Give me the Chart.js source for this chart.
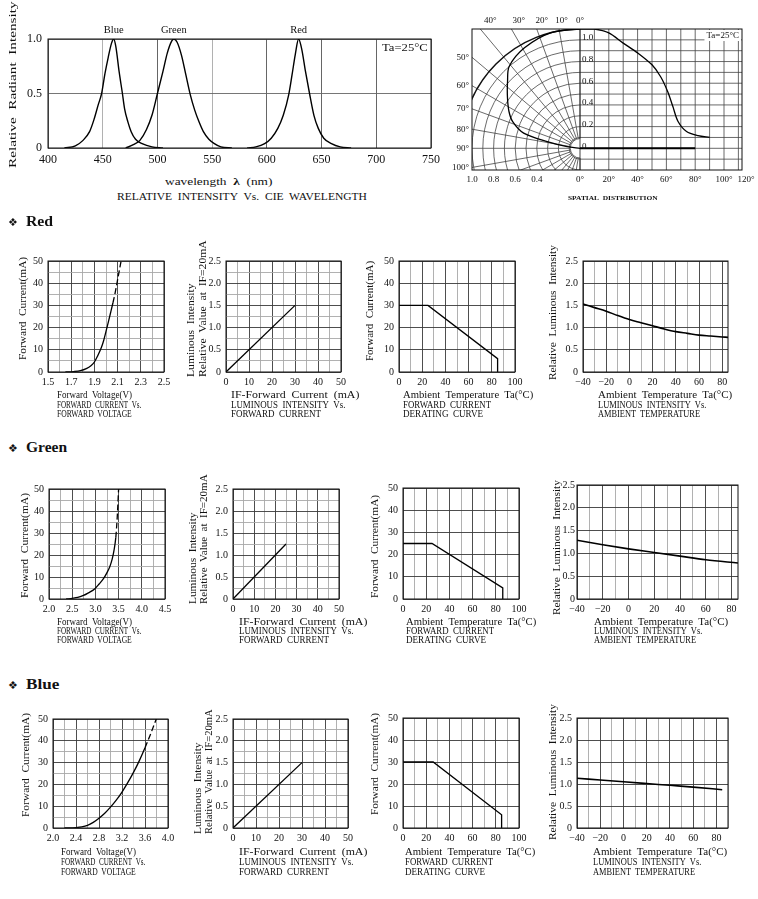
<!DOCTYPE html>
<html>
<head>
<meta charset="utf-8">
<script src="https://cdn.jsdelivr.net/npm/chart.js@4.4.0/dist/chart.umd.min.js"></script>
<style>
  body { margin: 0; background: #fff; }
  #page { position: relative; width: 758px; height: 899px; overflow: hidden; font-family: "Liberation Serif", serif; color: #111; }
  #page canvas { position: absolute; }
  .tx { position: absolute; white-space: nowrap; line-height: 1; transform-origin: 0 50%; }
  .rot { position: absolute; white-space: nowrap; line-height: 1; transform-origin: 0 0; }
</style>
</head>
<body>
<div id="page"></div>
<script>
// ---------- spectrum (relative intensity vs wavelength) ----------
const specBlueNm  = [415, 425, 432, 438, 442, 446, 449, 452, 455, 458, 460, 462, 465, 468, 470, 473, 476, 480, 486, 495, 505];
const specBlueRel = [0, 0.02, 0.07, 0.15, 0.26, 0.4, 0.5, 0.68, 0.83, 0.96, 1.0, 0.93, 0.7, 0.5, 0.36, 0.24, 0.15, 0.08, 0.04, 0.01, 0];
const specGreenNm  = [471, 478, 484, 490, 495, 500, 505, 509, 513, 515, 518, 522, 526, 530, 534, 538, 542, 547, 552, 558, 568];
const specGreenRel = [0, 0.03, 0.07, 0.17, 0.3, 0.5, 0.7, 0.87, 0.98, 1.0, 0.97, 0.85, 0.67, 0.49, 0.35, 0.24, 0.15, 0.08, 0.04, 0.01, 0];
const specRedNm  = [582, 590, 598, 604, 610, 615, 620, 623, 626, 629, 632, 635, 639, 643, 647, 652, 659, 667, 677];
const specRedRel = [0, 0.01, 0.04, 0.09, 0.18, 0.3, 0.49, 0.67, 0.86, 1.0, 0.9, 0.72, 0.5, 0.3, 0.18, 0.09, 0.04, 0.01, 0];
const specXTicks = [400, 450, 500, 550, 600, 650, 700, 750];
const specYTicks = [0, 0.5, 1.0];

// ---------- spatial distribution ----------
const spatialAngle = [0, 10, 20, 30, 40, 50, 56, 61, 64.5, 68, 74, 82, 90];
const spatialRel   = [1.1, 1.1, 1.065, 0.97, 0.88, 0.77, 0.66, 0.52, 0.385, 0.25, 0.155, 0.117, 0.1];
const polarAngle  = [0, 14, 29, 41, 47.5, 55, 62.7, 68.5, 75, 78.6, 82.8, 90];
const polarRadius = [1.1, 1.1, 1.06, 1.0, 0.91, 0.82, 0.74, 0.67, 0.54, 0.31, 0.12, 0];
const spatialBaseAngle = [0, 80];
const polarTopTicks = [0, 10, 20, 30, 40];
const polarSideTicks = [50, 60, 70, 80, 90, 100];
const polarRadiusTicks = [1.0, 0.8, 0.6, 0.4];
const polarAngleTicks = [0, 20, 40, 60, 80, 100, 120];
const polarValueTicks = [1.0, 0.8, 0.6, 0.4, 0.2, 0];

// ---------- forward current vs forward voltage ----------
const redVf = [1.65, 1.72, 1.78, 1.83, 1.87, 1.9, 1.93, 1.96, 1.98, 2.0, 2.02, 2.04, 2.06, 2.08, 2.105, 2.13];
const redIf = [0, 0.2, 0.6, 1.5, 2.8, 4.5, 7.5, 11, 14.2, 18.3, 22.5, 26.8, 31.2, 36, 43, 50];
const greenVf = [2.37, 2.5, 2.62, 2.73, 2.85, 2.99, 3.08, 3.17, 3.25, 3.31, 3.36, 3.4, 3.44, 3.47, 3.5];
const greenIf = [0, 0.3, 0.7, 1.5, 2.8, 4.7, 6.8, 9.1, 12, 14.7, 18, 22, 28, 37, 50];
const blueVf = [2.2, 2.4, 2.5, 2.6, 2.7, 2.8, 2.9, 3.0, 3.1, 3.2, 3.3, 3.4, 3.5, 3.6, 3.7, 3.8];
const blueIf = [0, 0.2, 0.5, 1.2, 2.6, 4.5, 6.8, 9.6, 12.8, 16.5, 20.8, 25.5, 30.8, 36.8, 43.3, 50.3];
const redVfTicks = [1.5, 1.7, 1.9, 2.1, 2.3, 2.5];
const greenVfTicks = [2.0, 2.5, 3.0, 3.5, 4.0, 4.5];
const blueVfTicks = [2.0, 2.4, 2.8, 3.2, 3.6, 4.0];

// ---------- luminous intensity vs forward current ----------
const redLumI = [0, 30],   redLumRel = [0, 1.5];
const greenLumI = [0, 25], greenLumRel = [0, 1.25];
const blueLumI = [0, 30],  blueLumRel = [0, 1.5];

// ---------- derating curves ----------
const redDerT = [0, 25, 85, 85],   redDerI = [30, 30, 6, 0];
const greenDerT = [0, 25, 86, 86], greenDerI = [25, 25, 5, 0];
const blueDerT = [0, 26, 85, 85],  blueDerI = [30, 30, 6, 0];

// ---------- luminous intensity vs ambient temperature ----------
const redTempT = [-40, -30, -20, -10, 0, 10, 20, 30, 40, 50, 60, 70, 80, 85];
const redTempRel = [1.53, 1.45, 1.37, 1.27, 1.18, 1.11, 1.04, 0.97, 0.91, 0.87, 0.83, 0.81, 0.79, 0.78];
const greenTempT = [-40, -20, 0, 20, 40, 60, 85];
const greenTempRel = [1.29, 1.19, 1.1, 1.02, 0.94, 0.86, 0.79];
const blueTempT = [-40, -20, 0, 20, 40, 60, 85];
const blueTempRel = [1.13, 1.09, 1.05, 1.01, 0.97, 0.93, 0.87];

const currentTicks = [0, 10, 20, 30, 40, 50];
const relTicks = [0, 0.5, 1.0, 1.5, 2.0, 2.5];
const derateTicks = [0, 20, 40, 60, 80, 100];
const tempTicks = [-40, -20, 0, 20, 40, 60, 80];

// ================================================================
Chart.defaults.font.family = '"Liberation Serif", serif';
Chart.defaults.color = '#111';

const page = document.getElementById('page');
const DARK = '#3a3a3a', LIGHT = '#a8a8a8';
const DEG_PER_UNIT = 75;

function addCanvas(l, t, w, h) {
  const c = document.createElement('canvas');
  c.width = w; c.height = h;
  c.style.left = l + 'px'; c.style.top = t + 'px';
  c.style.width = w + 'px'; c.style.height = h + 'px';
  page.appendChild(c);
  return c;
}

function label(html, l, yc, size, w, extra) {
  const s = document.createElement('span');
  s.className = 'tx';
  s.innerHTML = html;
  s.style.left = l + 'px';
  s.style.top = (yc - size / 2) + 'px';
  s.style.fontSize = size + 'px';
  if (extra) Object.assign(s.style, extra);
  page.appendChild(s);
  if (w) s.style.transform = 'scaleX(' + (w / s.offsetWidth) + ')';
  return s;
}

// rotated text reading bottom to top
function vlabel(html, xc, yb, size, len) {
  const s = document.createElement('span');
  s.className = 'rot';
  s.innerHTML = html;
  s.style.fontSize = size + 'px';
  page.appendChild(s);
  const k = len / s.offsetWidth;
  s.style.left = (xc - size / 2) + 'px';
  s.style.top = yb + 'px';
  s.style.transform = 'rotate(-90deg) scaleX(' + k + ')';
}

const fmt = dec => v => v === 0 ? '0' : (v < 0 ? '\u2212' : '') + Math.abs(v).toFixed(dec);
const isTick = (list, v) => list.some(a => Math.abs(a - v) < 1e-6);
function tickCb(list, f) {
  return v => {
    const t = list.find(a => Math.abs(a - v) < 1e-6);
    return t === undefined ? '' : f(t);
  };
}
const pts = (xs, ys) => xs.map((x, i) => ({ x, y: ys[i] }));

const framePlugin = {
  id: 'frame',
  afterDatasetsDraw(chart) {
    const { ctx, chartArea: a } = chart;
    ctx.save();
    ctx.strokeStyle = '#111';
    ctx.lineWidth = 1;
    ctx.strokeRect(a.left, a.top, a.width, a.height);
    ctx.restore();
  }
};

function axis(spec, dir, size) {
  return {
    type: 'linear', min: spec.min, max: spec.max,
    afterFit: s => { if (dir === 'x') s.height = size; else s.width = size; },
    ticks: {
      stepSize: spec.step, autoSkip: false, maxRotation: 0, includeBounds: false,
      padding: spec.pad !== undefined ? spec.pad : (dir === 'x' ? 4 : 5), color: '#111',
      font: { size: spec.font || 10 },
      callback: tickCb(spec.ticks, fmt(spec.dec))
    },
    grid: {
      drawTicks: false, lineWidth: 0.9,
      color: c => (c.tick && isTick(spec.ticks, c.tick.value)) ? DARK : LIGHT
    },
    border: { display: false }
  };
}

// ---------- small charts ----------
const PAD = { l: 34, t: 8, r: 12, b: 22 };
function smallChart(rect, xs, ys, datasets) {
  const [l, t, r, b] = rect;
  const cv = addCanvas(l - PAD.l, t - PAD.t, r - l + PAD.l + PAD.r, b - t + PAD.t + PAD.b);
  return new Chart(cv, {
    type: 'scatter',
    data: { datasets },
    options: {
      responsive: false, animation: false, events: [],
      layout: { padding: { top: PAD.t, right: PAD.r } },
      plugins: { legend: { display: false }, tooltip: { enabled: false } },
      scales: { x: axis(xs, 'x', PAD.b), y: axis(ys, 'y', PAD.l) }
    },
    plugins: [framePlugin]
  });
}

function curve(xs, ys, opt) {
  const o = opt || {};
  const ds = {
    data: pts(xs, ys), showLine: true, pointRadius: 0,
    borderColor: '#000', borderWidth: o.width || 1.3,
    tension: o.smooth ? 0.4 : 0,
    cubicInterpolationMode: o.smooth ? 'monotone' : 'default'
  };
  if (o.dashFrom !== undefined) {
    ds.segment = { borderDash: c => c.p0.parsed.y >= o.dashFrom ? [6, 3] : undefined };
  }
  return ds;
}

const axCur = { min: 0, max: 50, step: 5, ticks: currentTicks, dec: 0 };
const axRel25 = { min: 0, max: 2.5, step: 0.25, ticks: relTicks, dec: 1 };
const axRel5 = { min: 0, max: 2.5, step: 0.5, ticks: relTicks, dec: 1 };
const axDerT = { min: 0, max: 100, step: 10, ticks: derateTicks, dec: 0 };
const axDerI = { min: 0, max: 50, step: 10, ticks: currentTicks, dec: 0 };
const axTemp = max => ({ min: -40, max: max, step: 10, ticks: tempTicks, dec: 0 });

// Red
smallChart([48, 258, 164, 372], { min: 1.5, max: 2.5, step: 0.1, ticks: redVfTicks, dec: 1 }, axCur,
  [curve(redVf, redIf, { smooth: true, dashFrom: 30 })]);
smallChart([226, 258, 341, 372], axCur, axRel25, [curve(redLumI, redLumRel)]);
smallChart([399, 258, 515, 372], axDerT, axDerI, [curve(redDerT, redDerI)]);
smallChart([583, 258, 728, 372], axTemp(85), axRel5, [curve(redTempT, redTempRel, { smooth: true, width: 1.6 })]);

// Green
smallChart([49, 486, 165, 599], { min: 2.0, max: 4.5, step: 0.25, ticks: greenVfTicks, dec: 1 }, axCur,
  [curve(greenVf, greenIf, { smooth: true, dashFrom: 28 })]);
smallChart([233, 486, 339, 599], axCur, axRel25, [curve(greenLumI, greenLumRel)]);
smallChart([403, 485, 519, 599], axDerT, axDerI, [curve(greenDerT, greenDerI)]);
smallChart([577, 485, 738, 599], axTemp(85), Object.assign({}, axRel5, { pad: 2 }),
  [curve(greenTempT, greenTempRel, { smooth: true, width: 1.6 })]);

// Blue
smallChart([53, 716, 168, 828], { min: 2.0, max: 4.0, step: 0.2, ticks: blueVfTicks, dec: 1 }, axCur,
  [curve(blueVf, blueIf, { smooth: true, dashFrom: 36 })]);
smallChart([233, 716, 348, 828], axCur, axRel25, [curve(blueLumI, blueLumRel)]);
smallChart([403, 715, 519, 828], axDerT, axDerI, [curve(blueDerT, blueDerI)]);
smallChart([577, 715, 728, 828], axTemp(90), axRel5, [curve(blueTempT, blueTempRel, { smooth: true, width: 1.6 })]);

// ---------- spectrum chart ----------
const peakLabels = {
  id: 'peakLabels',
  afterDatasetsDraw(chart) {
    const { ctx, chartArea: a, scales: { x } } = chart;
    ctx.save();
    ctx.font = '10.5px "Liberation Serif"';
    ctx.fillStyle = '#111';
    ctx.textAlign = 'center';
    ctx.textBaseline = 'middle';
    chart.data.datasets.forEach(ds => {
      const top = ds.data.reduce((m, p) => p.y > m.y ? p : m, ds.data[0]);
      ctx.fillText(ds.label, x.getPixelForValue(top.x), a.top - 9);
    });
    ctx.restore();
  }
};

const specCanvas = addCanvas(0, 20, 445, 150);
new Chart(specCanvas, {
  type: 'scatter',
  data: {
    datasets: [
      Object.assign(curve(specBlueNm, specBlueRel, { smooth: true, width: 1.4 }), { label: 'Blue' }),
      Object.assign(curve(specGreenNm, specGreenRel, { smooth: true, width: 1.4 }), { label: 'Green' }),
      Object.assign(curve(specRedNm, specRedRel, { smooth: true, width: 1.4 }), { label: 'Red' })
    ]
  },
  options: {
    responsive: false, animation: false, events: [],
    layout: { padding: { top: 19, right: 13 } },
    plugins: { legend: { display: false }, tooltip: { enabled: false } },
    scales: {
      x: {
        type: 'linear', min: 400, max: 750,
        afterFit: s => { s.height = 22; },
        ticks: { stepSize: 50, autoSkip: false, maxRotation: 0, padding: 5, color: '#111', font: { size: 12 },
                 callback: tickCb(specXTicks, fmt(0)) },
        grid: { drawTicks: false, lineWidth: 0.9,
                color: c => (c.tick && (c.tick.value === 450 || c.tick.value === 550)) ? LIGHT : '#555' },
        border: { display: false }
      },
      y: {
        type: 'linear', min: 0, max: 1,
        afterFit: s => { s.width = 48; },
        ticks: { stepSize: 0.5, autoSkip: false, padding: 6, color: '#111', font: { size: 12 },
                 callback: tickCb(specYTicks, fmt(1)) },
        grid: { drawTicks: false, lineWidth: 0.9, color: '#666' },
        border: { display: false }
      }
    }
  },
  plugins: [framePlugin, peakLabels]
});

// ---------- spatial distribution chart ----------
const polarGrid = {
  id: 'polarGrid',
  beforeDatasetsDraw(chart) {
    const { ctx, chartArea: a, scales: { x, y } } = chart;
    const cx = x.getPixelForValue(0), cy = y.getPixelForValue(0);
    const kx = x.getPixelForValue(1) - cx, ky = cy - y.getPixelForValue(1);
    const seg = (x1, y1, x2, y2) => { ctx.beginPath(); ctx.moveTo(x1, y1); ctx.lineTo(x2, y2); ctx.stroke(); };
    ctx.save();
    ctx.beginPath(); ctx.rect(a.left, a.top, a.width, a.height); ctx.clip();
    ctx.strokeStyle = '#444';
    ctx.lineWidth = 0.8;
    // right half: rectangular grid
    for (let d = 10; d <= 120; d += 10) {
      const px = x.getPixelForValue(d / DEG_PER_UNIT);
      seg(px, a.top, px, a.bottom);
    }
    for (let k = -1; k <= 10; k++) {
      const py = y.getPixelForValue(k / 10);
      seg(cx, py, a.right, py);
    }
    // left half: polar grid
    for (let k = 1; k <= 10; k++) {
      ctx.beginPath();
      ctx.ellipse(cx, cy, k / 10 * kx, k / 10 * ky, 0, Math.PI / 2, Math.PI * 1.5);
      ctx.stroke();
    }
    for (let t = 0; t <= 180; t += 10) {
      const s = Math.sin(t * Math.PI / 180), c = Math.cos(t * Math.PI / 180);
      seg(cx - 0.09 * kx * s, cy - 0.09 * ky * c, cx - 2 * kx * s, cy - 2 * ky * c);
    }
    ctx.fillStyle = '#fff';
    ctx.beginPath();
    ctx.ellipse(cx, cy, 0.09 * kx, 0.09 * ky, 0, Math.PI / 2, Math.PI * 1.5);
    ctx.fill(); ctx.stroke();
    ctx.strokeStyle = '#111';
    seg(cx, a.top, cx, a.bottom);
    ctx.lineWidth = 1.5;
    ctx.beginPath();
    ctx.ellipse(cx, cy, 1.1 * kx, 1.1 * ky, 0, Math.PI, Math.PI * 1.5);
    ctx.stroke();
    ctx.restore();
  },
  afterDraw(chart) {
    const { ctx, chartArea: a, scales: { x, y } } = chart;
    const cx = x.getPixelForValue(0);
    ctx.save();
    ctx.fillStyle = '#111';
    ctx.font = '9px "Liberation Serif"';
    ctx.textBaseline = 'middle';
    ctx.textAlign = 'center';
    polarTopTicks.forEach(t => {
      const px = x.getPixelForValue(-1.1 * Math.tan(t * Math.PI / 180)) + t / 4;
      ctx.fillText(t + '°', px, a.top - 8);
    });
    polarRadiusTicks.forEach(r => ctx.fillText(r.toFixed(1), x.getPixelForValue(-r), a.bottom + 10));
    polarAngleTicks.forEach(d => ctx.fillText(d + '°', Math.min(x.getPixelForValue(d / DEG_PER_UNIT), a.right + 4), a.bottom + 10));
    ctx.textAlign = 'right';
    polarSideTicks.forEach(t => ctx.fillText(t + '°', a.left - 3, y.getPixelForValue(1 / Math.tan(t * Math.PI / 180))));
    ctx.textAlign = 'left';
    polarValueTicks.forEach(v => ctx.fillText(v === 0 ? '0' : v.toFixed(1), cx + 2, y.getPixelForValue(v) - 2));
    // ambient note
    const note = 'Ta=25°C';
    const w = ctx.measureText(note).width;
    ctx.fillStyle = '#fff';
    ctx.fillRect(a.right - w - 5, a.top + 1, w + 4, 11);
    ctx.fillStyle = '#111';
    ctx.fillText(note, a.right - w - 3, a.top + 6.5);
    ctx.strokeStyle = '#111';
    ctx.lineWidth = 1;
    ctx.strokeRect(a.left, a.top, a.width, a.height);
    ctx.restore();
  }
};

const polarCanvas = addCanvas(440, 10, 318, 195);
new Chart(polarCanvas, {
  type: 'scatter',
  data: {
    datasets: [
      { data: spatialAngle.map((d, i) => ({ x: d / DEG_PER_UNIT, y: spatialRel[i] })),
        showLine: true, pointRadius: 0, borderColor: '#000', borderWidth: 1.3, tension: 0.3 },
      { data: polarAngle.map((d, i) => {
          const t = d * Math.PI / 180;
          return { x: -polarRadius[i] * Math.sin(t), y: polarRadius[i] * Math.cos(t) };
        }),
        showLine: true, pointRadius: 0, borderColor: '#000', borderWidth: 1.3, tension: 0.3 },
      { data: spatialBaseAngle.map(d => ({ x: d / DEG_PER_UNIT, y: 0 })),
        showLine: true, pointRadius: 0, borderColor: '#000', borderWidth: 2 }
    ]
  },
  options: {
    responsive: false, animation: false, events: [],
    layout: { padding: { left: 32, top: 19, right: 16, bottom: 35 } },
    plugins: { legend: { display: false }, tooltip: { enabled: false } },
    scales: {
      x: { type: 'linear', min: -1, max: 1.5, display: false },
      y: { type: 'linear', min: -0.2, max: 1.1, display: false }
    }
  },
  plugins: [polarGrid]
});

// ---------- texts ----------
vlabel('Relative&nbsp; Radiant&nbsp; Intensity', 12, 168, 11, 166);
label('wavelength&nbsp; <b>λ</b>&nbsp; (nm)', 165, 181, 11, 108);
label('RELATIVE&nbsp; INTENSITY&nbsp; Vs.&nbsp; CIE&nbsp; WAVELENGTH', 117, 197, 10, 250);
label('Ta=25°C', 382, 47, 11, 46);
label('SPATIAL&nbsp; DISTRIBUTION', 568, 198, 7, 90, { fontWeight: 'bold' });

const heads = [['Red', 222, 27], ['Green', 448, 41], ['Blue', 685, 33]];
heads.forEach(([name, yc, w]) => {
  label('❖', 8, yc, 11, 0, { fontFamily: '"DejaVu Sans", sans-serif' });
  label(name, 26, yc, 14, w, { fontWeight: 'bold' });
});

const captions = [
  [['Forward&nbsp; Voltage(V)', 75], ['FORWARD&nbsp; CURRENT&nbsp; Vs.', 84], ['FORWARD&nbsp; VOLTAGE', 75]],
  [['IF-Forward&nbsp; Current&nbsp; (mA)', 128], ['LUMINOUS&nbsp; INTENSITY&nbsp; Vs.', 114], ['FORWARD&nbsp; CURRENT', 90]],
  [['Ambient&nbsp; Temperature&nbsp; Ta(°C)', 130], ['FORWARD&nbsp; CURRENT', 88], ['DERATING&nbsp; CURVE', 80]],
  [['Ambient&nbsp; Temperature&nbsp; Ta(°C)', 134], ['LUMINOUS&nbsp; INTENSITY&nbsp; Vs.', 108], ['AMBIENT&nbsp; TEMPERATURE', 102]]
];
const capRows = [
  { ys: [395, 404.5, 414], xs: [57, 231, 403, 598] },
  { ys: [622, 631, 640], xs: [57, 239, 406, 594] },
  { ys: [852, 862, 872], xs: [61, 239, 405, 593] }
];
capRows.forEach(row => {
  captions.forEach((lines, c) => {
    lines.forEach(([txt, w], k) => label(txt, row.xs[c], row.ys[k], 10, w));
  });
});

// y-axis titles: [c1 xc, yc, len], [c2 xc1, xc2, yb, len1, len2], [c3 xc, yc, len], [c4 xc, yc, len]
const yTitles = [
  { c1: [23, 308, 103], c2: [191, 203, 377, 94, 137], c3: [370, 311, 100], c4: [553, 312, 135] },
  { c1: [25, 545, 105], c2: [193, 204, 604, 92, 130], c3: [375, 546, 103], c4: [557, 547, 135] },
  { c1: [26, 765, 104], c2: [198, 209, 834, 92, 125], c3: [375, 764, 102], c4: [553, 772, 136] }
];
yTitles.forEach(r => {
  vlabel('Forward&nbsp; Current(mA)', r.c1[0], r.c1[1] + r.c1[2] / 2, 10, r.c1[2]);
  vlabel('Luminous&nbsp; Intensity', r.c2[0], r.c2[2], 10, r.c2[3]);
  vlabel('Relative&nbsp; Value&nbsp; at&nbsp; IF=20mA', r.c2[1], r.c2[2], 10, r.c2[4]);
  vlabel('Forward&nbsp; Current(mA)', r.c3[0], r.c3[1] + r.c3[2] / 2, 10, r.c3[2]);
  vlabel('Relative&nbsp; Luminous&nbsp; Intensity', r.c4[0], r.c4[1] + r.c4[2] / 2, 10, r.c4[2]);
});
</script>
</body>
</html>
